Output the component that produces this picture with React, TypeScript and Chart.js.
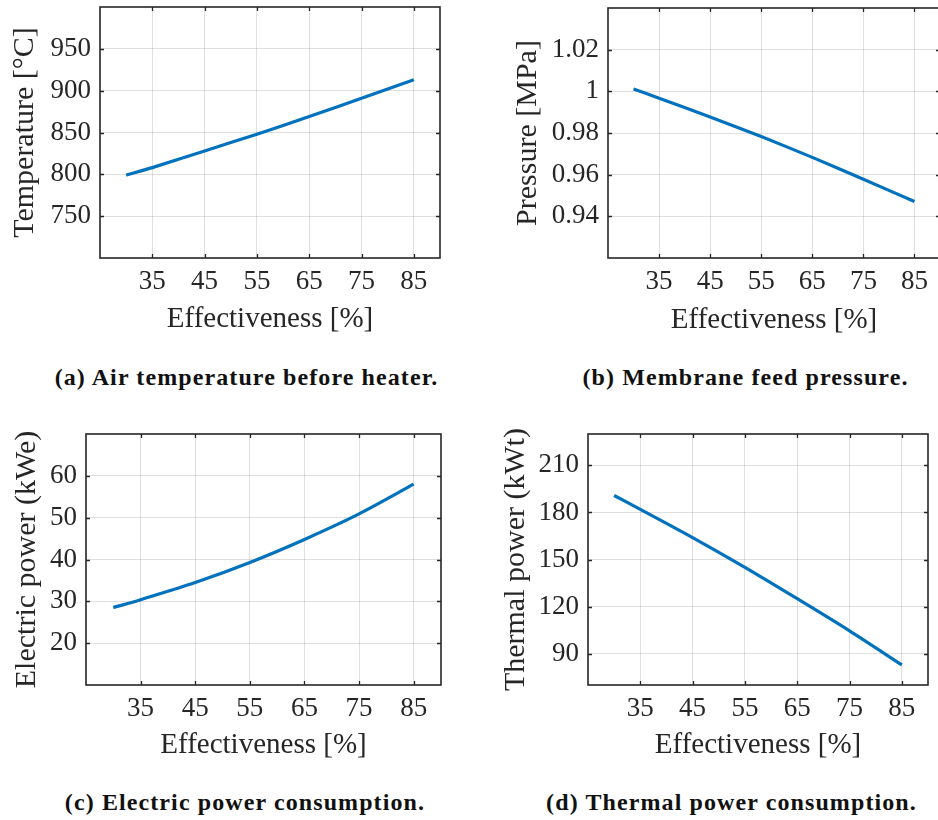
import React, { useEffect, useRef } from 'react';
import { Chart, registerables } from 'chart.js';

Chart.register(...registerables);

// ---------- data ----------
const effectiveness = [30, 35, 45, 55, 65, 75, 85];
const airTemperature = [799, 808, 828, 848, 869, 891, 913];
const feedPressure = [1.0011, 0.9967, 0.9877, 0.9783, 0.9683, 0.9578, 0.9471];
const electricPower = [28.5, 30.4, 34.5, 39.3, 44.8, 50.9, 58.0];
const thermalPower = [190.8, 182.0, 164.0, 145.0, 125.0, 104.5, 82.8];

const xTickValues = [35, 45, 55, 65, 75, 85];
const xTickLabels = ['35', '45', '55', '65', '75', '85'];
const tempTickValues = [750, 800, 850, 900, 950];
const tempTickLabels = ['750', '800', '850', '900', '950'];
const pressTickValues = [0.94, 0.96, 0.98, 1, 1.02];
const pressTickLabels = ['0.94', '0.96', '0.98', '1', '1.02'];
const elecTickValues = [20, 30, 40, 50, 60];
const elecTickLabels = ['20', '30', '40', '50', '60'];
const thermTickValues = [90, 120, 150, 180, 210];
const thermTickLabels = ['90', '120', '150', '180', '210'];

const xTitle = 'Effectiveness [%]';
const captions = [
  '(a) Air temperature before heater.',
  '(b) Membrane feed pressure.',
  '(c) Electric power consumption.',
  '(d) Thermal power consumption.',
];

const SERIF = "'Liberation Serif', 'DejaVu Serif', serif";
const AX = '#262626';
const LINE = '#0072BD';

type PanelCfg = {
  values: number[];
  yTicks: number[];
  yLabels: string[];
  yMin: number;
  yMax: number;
  yTitle: string;
  left: number; top: number; width: number; height: number;
  plotLeft: number; plotTop: number; plotRight: number; plotBottom: number;
  yTitleCenter: number; xTitleCenter: number;
};

const framePlugin = {
  id: 'matlabFrame',
  afterDraw(chart: any) {
    const { ctx, chartArea, scales } = chart;
    const { left, top, right, bottom } = chartArea;
    ctx.save();
    ctx.strokeStyle = AX;
    ctx.lineWidth = 1.3;
    const tl = 4;
    ctx.beginPath();
    scales.x.ticks.forEach((t: any) => {
      const p = Math.round(scales.x.getPixelForValue(t.value)) + 0.5;
      ctx.moveTo(p, bottom); ctx.lineTo(p, bottom - tl);
      ctx.moveTo(p, top); ctx.lineTo(p, top + tl);
    });
    scales.y.ticks.forEach((t: any) => {
      const p = Math.round(scales.y.getPixelForValue(t.value)) + 0.5;
      ctx.moveTo(left, p); ctx.lineTo(left + tl, p);
      ctx.moveTo(right, p); ctx.lineTo(right - tl, p);
    });
    ctx.stroke();
    ctx.lineWidth = 1.6;
    ctx.strokeRect(left, top, right - left, bottom - top);
    ctx.restore();
  },
};

const zeroPad = (s: any) => {
  s.paddingTop = 0;
  s.paddingBottom = 0;
  s.paddingLeft = 0;
  s.paddingRight = 0;
};

function Panel({ cfg }: { cfg: PanelCfg }) {
  const ref = useRef<HTMLCanvasElement | null>(null);
  useEffect(() => {
    if (!ref.current) return;
    const yAxisWidth = cfg.plotLeft - cfg.left;
    const xAxisHeight = cfg.top + cfg.height - cfg.plotBottom;
    const xTitleFont = { family: SERIF, size: 29 };
    const yTitleFont = { family: SERIF, size: 30 };
    const tickFont = { family: SERIF, size: 27 };
    const lhx = 29 * 1.2;
    const lhy = 30 * 1.2;
    const chart = new Chart(ref.current, {
      type: 'line',
      data: {
        labels: effectiveness,
        datasets: [
          {
            data: effectiveness.map((x, i) => ({ x, y: cfg.values[i] })),
            borderColor: LINE,
            borderWidth: 3.2,
            pointRadius: 0,
            tension: 0.25,
            fill: false,
          },
        ],
      },
      options: {
        animation: false,
        responsive: false,
        maintainAspectRatio: false,
        layout: {
          padding: {
            left: 0,
            top: cfg.plotTop - cfg.top,
            right: cfg.left + cfg.width - cfg.plotRight,
            bottom: 0,
          },
        },
        plugins: { legend: { display: false }, tooltip: { enabled: false } },
        scales: {
          x: {
            type: 'linear',
            min: 25,
            max: 90,
            afterBuildTicks: (s: any) => { s.ticks = xTickValues.map((v) => ({ value: v })); },
            afterFit: (s: any) => { s.height = xAxisHeight; zeroPad(s); },
            ticks: {
              font: tickFont,
              color: AX,
              padding: 8,
              maxRotation: 0,
              autoSkip: false,
              callback: (_v: any, i: number) => xTickLabels[i],
            },
            grid: { color: 'rgba(38,38,38,0.15)', lineWidth: 1, drawTicks: false },
            border: { display: false },
            title: {
              display: true,
              text: xTitle,
              font: xTitleFont,
              color: AX,
              padding: { top: 0, bottom: (cfg.top + cfg.height - cfg.xTitleCenter) - lhx / 2 },
            },
          },
          y: {
            type: 'linear',
            min: cfg.yMin,
            max: cfg.yMax,
            afterBuildTicks: (s: any) => { s.ticks = cfg.yTicks.map((v) => ({ value: v })); },
            afterFit: (s: any) => { s.width = yAxisWidth; zeroPad(s); },
            ticks: {
              font: tickFont,
              color: AX,
              padding: 9,
              autoSkip: false,
              callback: (_v: any, i: number) => cfg.yLabels[i],
            },
            grid: { color: 'rgba(38,38,38,0.15)', lineWidth: 1, drawTicks: false },
            border: { display: false },
            title: {
              display: true,
              text: cfg.yTitle,
              font: yTitleFont,
              color: AX,
              padding: { top: (cfg.yTitleCenter - cfg.left) - lhy / 2, bottom: 0 },
            },
          },
        },
      },
      plugins: [framePlugin],
    } as any);
    return () => chart.destroy();
  }, [cfg]);
  return (
    <canvas
      ref={ref}
      width={cfg.width}
      height={cfg.height}
      style={{ position: 'absolute', left: cfg.left, top: cfg.top, width: cfg.width, height: cfg.height }}
    />
  );
}

const panels: PanelCfg[] = [
  {
    values: airTemperature, yTicks: tempTickValues, yLabels: tempTickLabels, yMin: 700, yMax: 1000,
    yTitle: 'Temperature [°C]',
    left: 0, top: 0, width: 469, height: 340,
    plotLeft: 100, plotTop: 7, plotRight: 440, plotBottom: 258,
    yTitleCenter: 25, xTitleCenter: 319.5,
  },
  {
    values: feedPressure, yTicks: pressTickValues, yLabels: pressTickLabels, yMin: 0.92, yMax: 1.04,
    yTitle: 'Pressure [MPa]',
    left: 469, top: 0, width: 475, height: 340,
    plotLeft: 608, plotTop: 8, plotRight: 940, plotBottom: 258,
    yTitleCenter: 528, xTitleCenter: 320.5,
  },
  {
    values: electricPower, yTicks: elecTickValues, yLabels: elecTickLabels, yMin: 10, yMax: 70,
    yTitle: 'Electric power (kWe)',
    left: 0, top: 400, width: 469, height: 370,
    plotLeft: 86, plotTop: 434, plotRight: 441, plotBottom: 685,
    yTitleCenter: 27, xTitleCenter: 745,
  },
  {
    values: thermalPower, yTicks: thermTickValues, yLabels: thermTickLabels, yMin: 70, yMax: 230,
    yTitle: 'Thermal power (kWt)',
    left: 469, top: 400, width: 469, height: 370,
    plotLeft: 588, plotTop: 434, plotRight: 928, plotBottom: 685,
    yTitleCenter: 516, xTitleCenter: 745,
  },
];

const captionPos = [
  { x: 246.5, y: 377 },
  { x: 745.5, y: 377 },
  { x: 245, y: 802 },
  { x: 731.5, y: 802 },
];

export default function App() {
  useEffect(() => {
    document.body.style.margin = '0';
    document.body.style.background = '#ffffff';
  }, []);
  return (
    <div style={{ position: 'relative', width: 938, height: 820, overflow: 'hidden', background: '#fff' }}>
      {panels.map((p, i) => (
        <Panel key={i} cfg={p} />
      ))}
      {captions.map((c, i) => (
        <div
          key={'c' + i}
          style={{
            position: 'absolute',
            left: captionPos[i].x,
            top: captionPos[i].y,
            transform: 'translate(-50%, -50%)',
            whiteSpace: 'nowrap',
            fontFamily: SERIF,
            fontWeight: 'bold',
            fontSize: 24,
            letterSpacing: '1.1px',
            color: '#111',
          }}
        >
          {c}
        </div>
      ))}
    </div>
  );
}
